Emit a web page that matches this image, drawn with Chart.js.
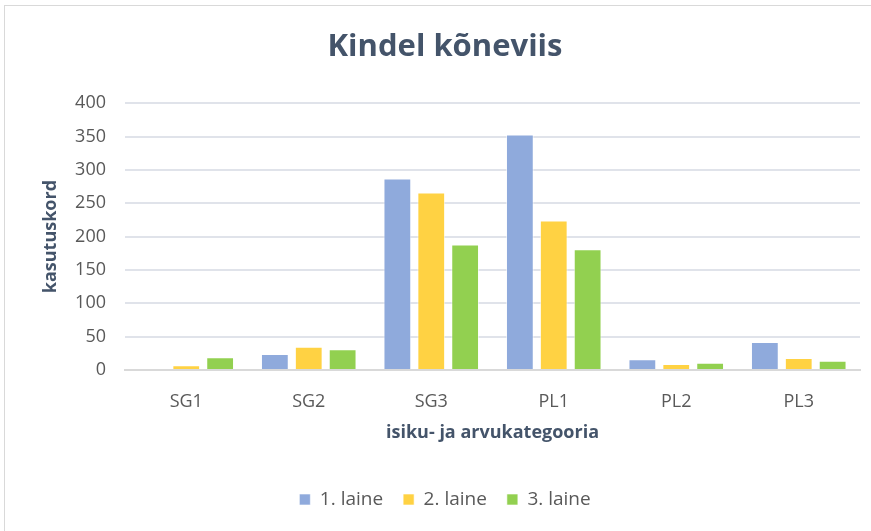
<!DOCTYPE html>
<html>
<head>
<meta charset="utf-8">
<script src="https://cdn.jsdelivr.net/npm/chart.js@4"></script>
<style>
html,body{margin:0;padding:0;background:#fff;}
#wrap{position:relative;width:871px;height:531px;overflow:hidden;}
#frame{position:absolute;left:4px;top:5px;width:900px;height:600px;border:1px solid #D9D9D9;box-sizing:border-box;}
canvas{position:absolute;left:0;top:0;}
</style>
</head>
<body>
<div id="wrap"><div id="frame"></div><canvas id="c" width="871" height="531"></canvas></div>
<script>
const categories = ["SG1", "SG2", "SG3", "PL1", "PL2", "PL3"];
const seriesNames = ["1. laine", "2. laine", "3. laine"];
const wave1 = [0, 24, 287, 353, 16, 42];
const wave2 = [7, 35, 266, 224, 9, 18];
const wave3 = [19, 31, 188, 181, 11, 14];
const colors = ["#8FAADC", "#FFD243", "#92D050"];

const FONT = "'Open Sans', Lato, sans-serif";

new Chart(document.getElementById('c'), {
  type: 'bar',
  data: {
    labels: categories,
    datasets: [wave1, wave2, wave3].map((d, i) => ({
      label: seriesNames[i],
      data: d,
      backgroundColor: colors[i],
      borderColor: 'rgba(255,255,255,0.6)',
      borderWidth: 1,
      categoryPercentage: 0.83,
      barPercentage: 0.82
    }))
  },
  options: {
    responsive: false,
    animation: false,
    layout: { padding: { left: 30, right: 11, top: 0, bottom: 12 } },
    plugins: {
      title: {
        display: true,
        text: 'Kindel kõneviis',
        color: '#44546A',
        font: { family: FONT, size: 31, weight: 'bold' },
        padding: { top: 29, bottom: 37 }
      },
      legend: {
        position: 'bottom',
        labels: {
          color: '#595959',
          font: { family: FONT, size: 19 },
          boxWidth: 11,
          boxHeight: 11,
          padding: 20
        }
      },
      tooltip: { enabled: false }
    },
    scales: {
      x: {
        grid: { display: false },
        border: { display: true, color: '#D9D9D9', width: 2 },
        ticks: { color: '#595959', font: { family: FONT, size: 18 }, padding: 13 },
        title: {
          display: true,
          text: 'isiku- ja arvukategooria',
          color: '#44546A',
          font: { family: FONT, size: 18, weight: 'bold' },
          padding: { top: 10, bottom: 26 }
        },
        afterFit: (s) => { s.height = 100; }
      },
      y: {
        min: 0,
        max: 400,
        ticks: { stepSize: 50, color: '#595959', font: { family: FONT, size: 18 }, padding: 19 },
        grid: { color: '#E0E3EA', lineWidth: 2, drawTicks: false },
        border: { display: false },
        title: {
          display: true,
          text: 'kasutuskord',
          color: '#44546A',
          font: { family: FONT, size: 18, weight: 'bold' },
          padding: { top: 10, bottom: 10 }
        },
        afterFit: (s) => { s.width = 95; }
      }
    }
  }
});
</script>
</body>
</html>
